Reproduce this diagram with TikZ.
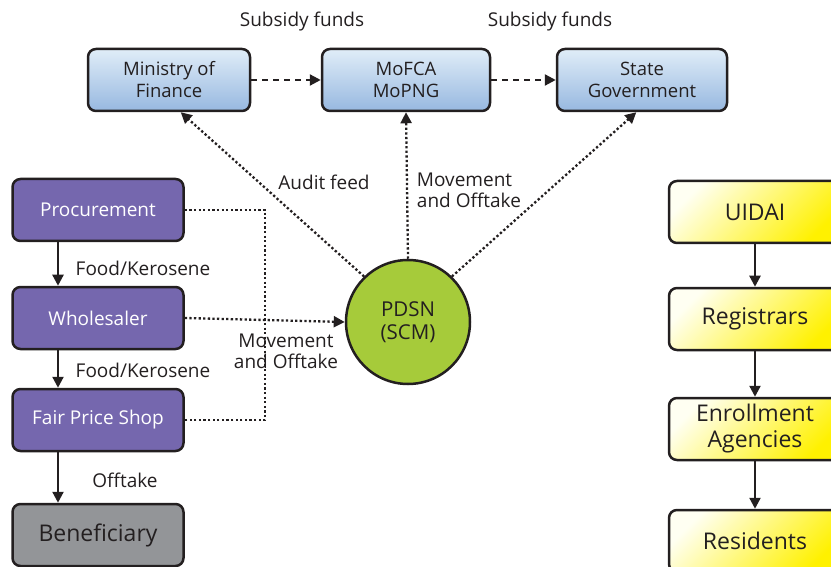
\documentclass[tikz,border=0pt]{standalone}
\usepackage{fontspec}
\setmainfont{Open Sans}
\usetikzlibrary{arrows.meta}
\usetikzlibrary{positioning}
\definecolor{inkblack}{HTML}{231F20}
\definecolor{skytop}{HTML}{E0EDF8}
\definecolor{skybot}{HTML}{97B8E0}
\definecolor{plum}{HTML}{7567AE}
\definecolor{ashgray}{HTML}{939598}
\definecolor{limegreen}{HTML}{A6CB3A}
\definecolor{lemontop}{HTML}{FFFFF2}
\definecolor{lemonbot}{HTML}{FFF100}

\begin{document}
\begin{tikzpicture}[x=1pt,y=-1pt,>={Triangle[length=11pt,width=11pt]},
  line width=2.3pt,draw=inkblack,text=inkblack,
  box/.style={rectangle,rounded corners=8pt,draw=inkblack,line width=2.5pt,
    minimum height=62pt,align=center,inner sep=2pt},
  ministry box/.style={box,minimum width=165pt,top color=skytop,bottom color=skybot,
    font=\fontsize{18.5}{22}\selectfont},
  chain box/.style={box,minimum width=171pt,fill=plum,text=white,
    font=\fontsize{19}{22}\selectfont},
  uid box/.style={box,minimum width=172pt,top color=lemontop,bottom color=lemonbot,
    shading angle=45,font=\fontsize{23}{26}\selectfont},
  tag/.style={font=\fontsize{19}{21}\selectfont,align=center,inner sep=0pt},
  dotline/.style={dash pattern=on 2.3pt off 2.3pt},
  dashline/.style={dash pattern=on 6pt off 5pt}]

  \useasboundingbox (0,0) rectangle (831,567);

  % top row
  \node[ministry box,minimum width=162pt] (mof) at (169,80) {Ministry of\\Finance};
  \node[ministry box,minimum width=168pt] (mofca) at (406,80) {MoFCA\\MoPNG};
  \node[ministry box,minimum width=170pt] (state) at (642,80) {State\\Government};

  % supply chain
  \node[chain box] (proc) at (98,210) {Procurement};
  \node[chain box] (whole) at (98,318) {Wholesaler};
  \node[chain box] (fps) at (98,420) {Fair Price Shop};
  \node[box,minimum width=171pt,fill=ashgray,font=\fontsize{23}{26}\selectfont] (benef) at (98,535) {Beneficiary};

  % hub
  \node[circle,draw=inkblack,line width=2.5pt,fill=limegreen,minimum size=124pt,
    font=\fontsize{20.5}{23}\selectfont,align=center] (pdsn) at (408,322) {PDSN\\(SCM)};

  % aadhaar chain
  \node[uid box] (uidai) at (755,212) {UIDAI};
  \node[uid box] (reg) at (755,319) {Registrars};
  \node[uid box] (enroll) at (755,429) {Enrollment\\Agencies};
  \node[uid box] (res) at (755,541) {Residents};

  % labels
  \node[tag] (fund1) at (302,22) {Subsidy funds};
  \node[tag] (fund2) at (550,22) {Subsidy funds};
  \node[tag] (audit) at (324,182) {Audit feed};
  \node[tag,align=left] (move1) at (469,190) {Movement\\and Offtake};
  \node[tag] (move2) at (286,351) {Movement\\and Offtake};
  \node[tag] (food1) at (143,268) {Food/Kerosene};
  \node[tag] (food2) at (143,370) {Food/Kerosene};
  \node[tag] (offt) at (125,480) {Offtake};

  \coordinate (bus) at (265,210);

  \path[->,dashline] (mof) edge (mofca)
    (mofca) edge (state);
  \path[->,dotline] (pdsn.134) edge (mof.-70)
    (pdsn.north) edge (mofca.south)
    (pdsn.46) edge (state.-100)
    (whole.east) edge (pdsn.west);
  \draw[dotline] (proc.east) -- (bus) |- (fps.east);
  \path[->] ([xshift=-40pt]proc.south) edge ([xshift=-40pt]whole.north)
    ([xshift=-40pt]whole.south) edge ([xshift=-40pt]fps.north)
    ([xshift=-40pt]fps.south) edge ([xshift=-40pt]benef.north)
    (uidai) edge (reg)
    (reg) edge (enroll)
    (enroll) edge (res);
\end{tikzpicture}
\end{document}
